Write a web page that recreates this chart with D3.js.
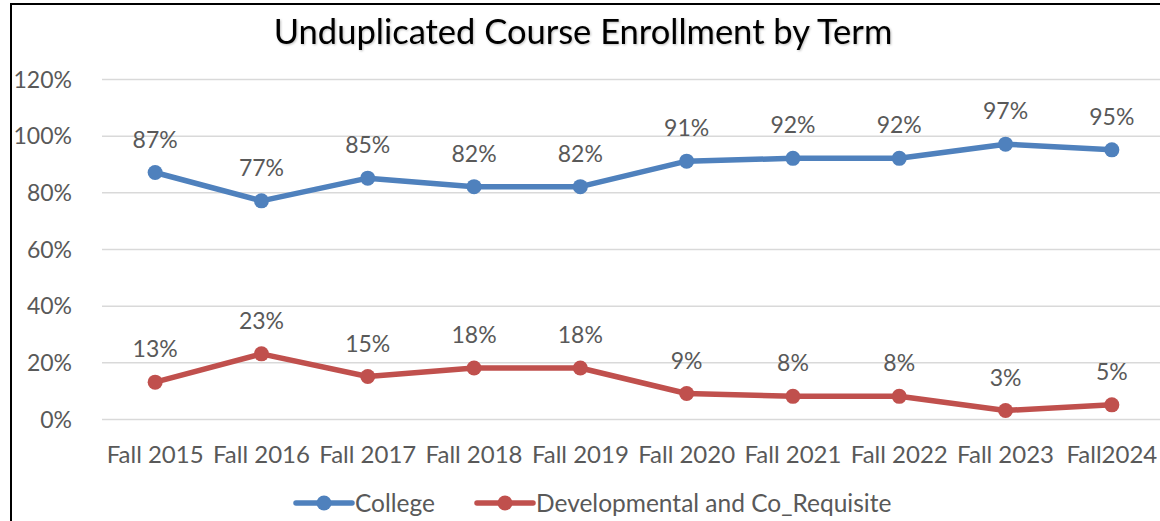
<!DOCTYPE html>
<meta charset="utf-8">
<style>
  html, body { margin: 0; padding: 0; background: #fff; overflow: hidden; }
  text { font-family: Lato, "Open Sans", sans-serif; fill: #595959; }
  .grid line { stroke: #d9d9d9; stroke-width: 1.5px; }
  .grid path { display: none; }
  .axis path, .axis line { display: none; }
  .axis text { font-size: 23px; fill: #595959; }
  .axis.x text { font-size: 24px; }
  .label { font-size: 23px; }
  .title { font-size: 34.5px; fill: #000; }
  .legend text { font-size: 24.5px; }
</style>
<body>
<svg width="1160" height="521"></svg>
<script src="https://d3js.org/d3.v7.min.js"></script>
<script>
  var terms = ["Fall 2015", "Fall 2016", "Fall 2017", "Fall 2018", "Fall 2019",
               "Fall 2020", "Fall 2021", "Fall 2022", "Fall 2023", "Fall2024"];
  var college = [87, 77, 85, 82, 82, 91, 92, 92, 97, 95];
  var developmental = [13, 23, 15, 18, 18, 9, 8, 8, 3, 5];
  var yTicks = [0, 20, 40, 60, 80, 100, 120];
  var seriesNames = ["College", "Developmental and Co_Requisite"];
  var colors = ["#4f81bd", "#c0504d"];

  var margin = {top: 79, left: 102},
      width = 1063,
      height = 340;

  var svg = d3.select("svg");

  // outer frame (cropped on right and bottom)
  svg.append("rect")
    .attr("x", 11).attr("y", 4)
    .attr("width", 1200).attr("height", 600)
    .attr("fill", "none")
    .attr("stroke", "#000")
    .attr("stroke-width", 2);

  svg.append("text")
    .attr("class", "title")
    .attr("x", 583)
    .attr("y", 44)
    .attr("text-anchor", "middle")
    .style("filter", "drop-shadow(1px 1px 1px rgba(0,0,0,0.25))")
    .text("Unduplicated Course Enrollment by Term");

  var g = svg.append("g")
    .attr("transform", "translate(" + margin.left + "," + margin.top + ")");

  var x = d3.scaleBand().domain(terms).range([0, width]);
  var y = d3.scaleLinear().domain([0, 120]).range([height, 0]);

  g.append("g")
    .attr("class", "grid")
    .call(d3.axisLeft(y).tickValues(yTicks).tickSize(-width).tickFormat(""));

  g.append("g")
    .attr("class", "axis y")
    .attr("transform", "translate(-27,0)")
    .call(d3.axisLeft(y).tickValues(yTicks).tickSize(0).tickFormat(function(d) { return d + "%"; }))
    .selectAll("text").attr("dy", "0.35em");

  g.append("g")
    .attr("class", "axis x")
    .attr("transform", "translate(0," + height + ")")
    .call(d3.axisBottom(x).tickSize(0).tickPadding(27))
    .selectAll("text").attr("dy", "0.71em");

  var line = d3.line()
    .x(function(d, i) { return x(terms[i]) + x.bandwidth() / 2; })
    .y(function(d) { return y(d); });

  [college, developmental].forEach(function(vals, s) {
    var sg = g.append("g");
    sg.append("path")
      .datum(vals)
      .attr("fill", "none")
      .attr("stroke", colors[s])
      .attr("stroke-width", 5.5)
      .attr("stroke-linejoin", "round")
      .attr("d", line);
    sg.selectAll("circle")
      .data(vals)
      .enter().append("circle")
      .attr("cx", function(d, i) { return x(terms[i]) + x.bandwidth() / 2; })
      .attr("cy", function(d) { return y(d); })
      .attr("r", 7.5)
      .attr("fill", colors[s]);
    sg.selectAll("text")
      .data(vals)
      .enter().append("text")
      .attr("class", "label")
      .attr("x", function(d, i) { return x(terms[i]) + x.bandwidth() / 2; })
      .attr("y", function(d) { return y(d) - 25; })
      .attr("text-anchor", "middle")
      .text(function(d) { return d + "%"; });
  });

  // legend
  var legendX = [296, 477];
  var leg = svg.append("g").attr("class", "legend");
  seriesNames.forEach(function(name, s) {
    var lx = legendX[s];
    leg.append("line")
      .attr("x1", lx).attr("x2", lx + 56)
      .attr("y1", 503).attr("y2", 503)
      .attr("stroke", colors[s])
      .attr("stroke-width", 5.5)
      .attr("stroke-linecap", "round");
    leg.append("circle")
      .attr("cx", lx + 28).attr("cy", 503)
      .attr("r", 7.5)
      .attr("fill", colors[s]);
    leg.append("text")
      .attr("x", lx + 59)
      .attr("y", 512)
      .text(name);
  });
</script>
</body>
